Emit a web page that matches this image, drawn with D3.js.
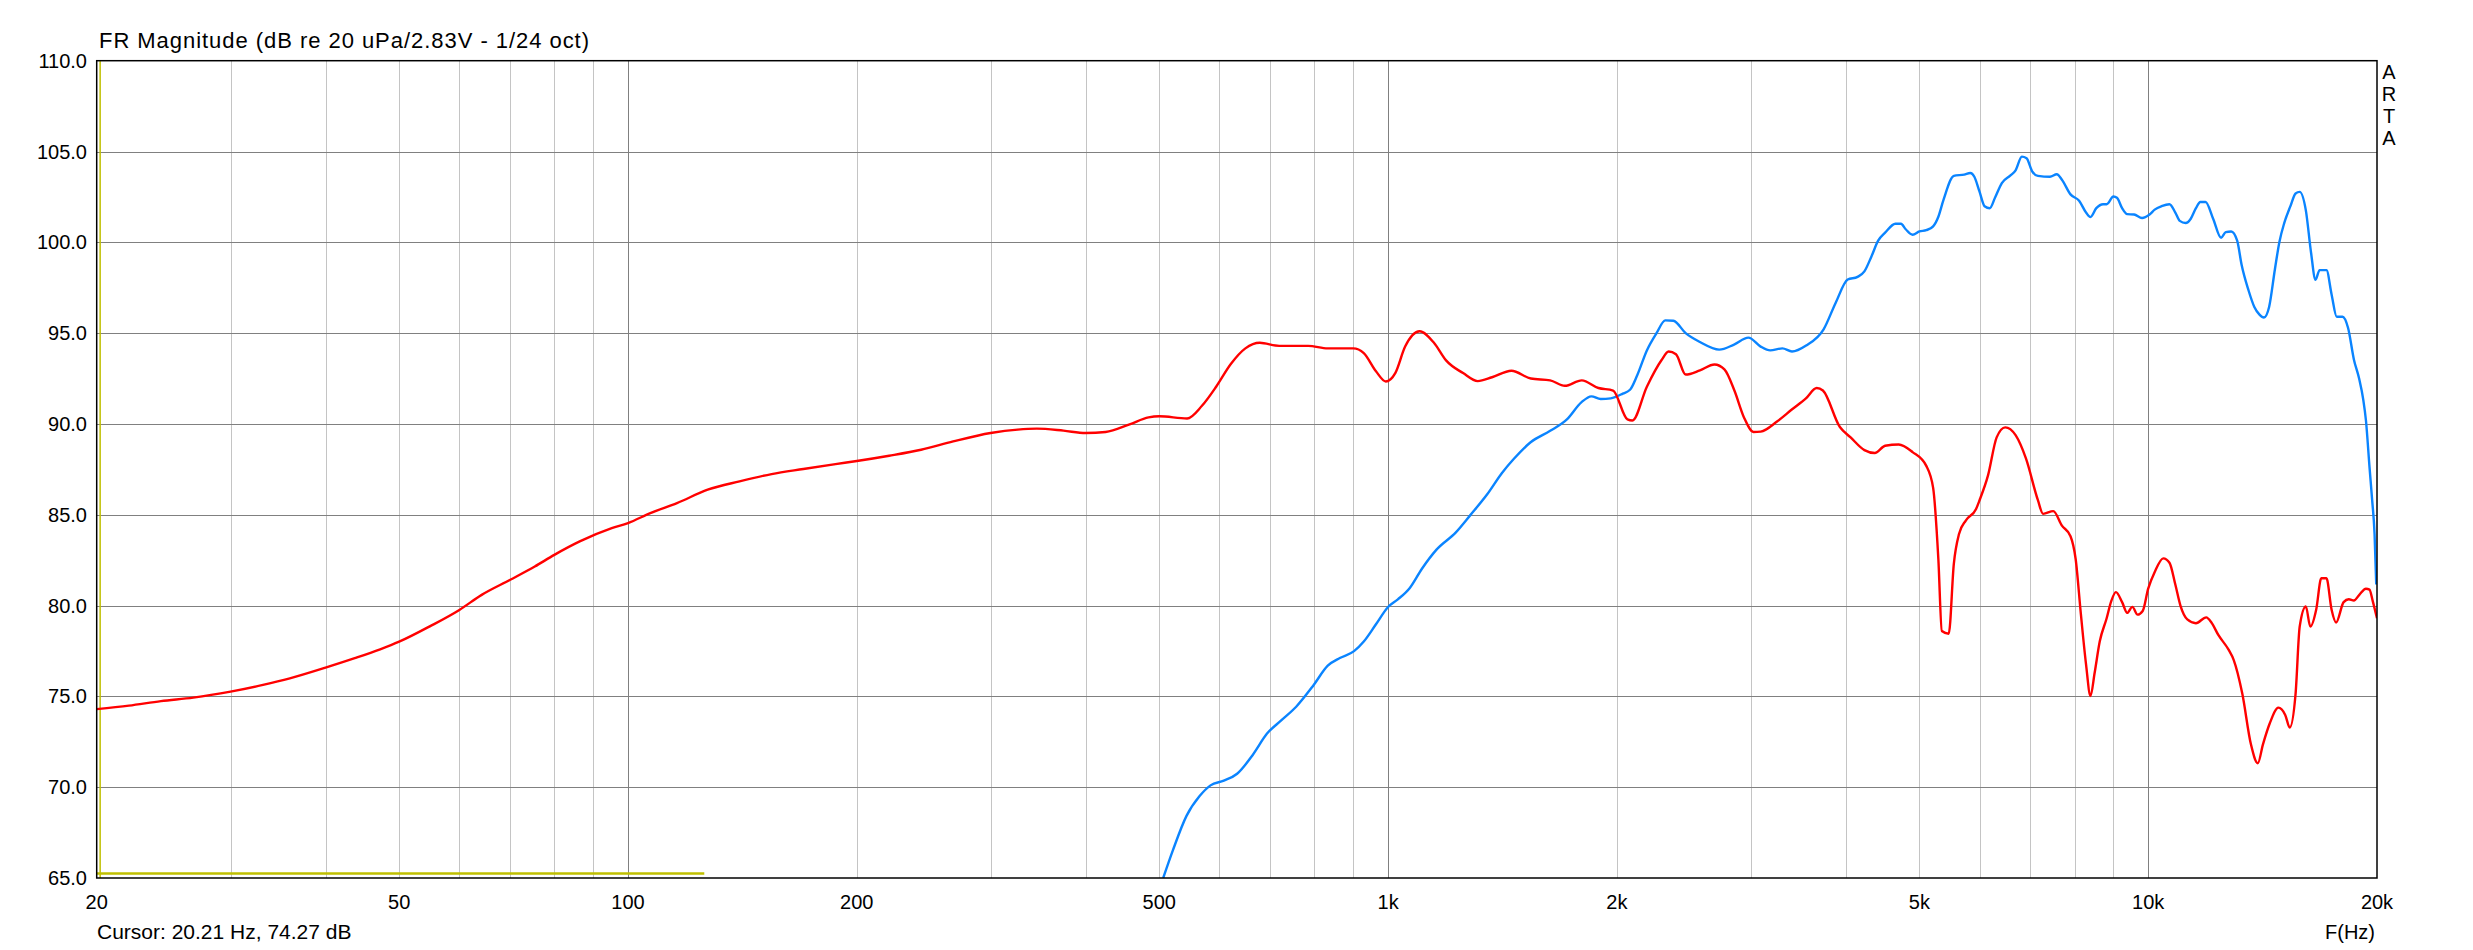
<!DOCTYPE html>
<html>
<head>
<meta charset="utf-8">
<script src="https://cdn.jsdelivr.net/npm/d3@7"></script>
<style>
  html, body { margin: 0; padding: 0; background: #fff; }
  svg { display: block; font-family: "Liberation Sans", Arial, sans-serif; }
</style>
</head>
<body>
<div id="chart"></div>
<script>
// woofer (red) and tweeter (blue) response
const redFreq = [20, 22.05, 24.3, 26.8, 30, 33.1, 35.9, 40, 43.7, 47.2, 50, 55, 60, 64.2, 70, 75.4, 80, 86.4, 95.2, 100,
  107, 116, 127.3, 140.2, 154.5, 170.1, 187.5, 200, 220.6, 243, 267.8, 300, 325.6, 345, 374, 400, 425, 457, 484, 500,
  544, 569, 594, 621, 649, 678, 719, 785, 833, 900, 929, 964, 993, 1022, 1053, 1100, 1149, 1192, 1255, 1312,
  1370, 1453, 1541, 1634, 1708, 1798, 1891, 1977, 2065, 2096, 2190, 2290, 2339, 2392, 2463, 2572, 2688, 2770, 2855, 2939,
  3025, 3092, 3252, 3394, 3546, 3664, 3733, 3930, 4060, 4233, 4368, 4507, 4697, 4898, 5106, 5213, 5296, 5352, 5465, 5550,
  5638, 5755, 5937, 6000, 6157, 6319, 6486, 6692, 6905, 7160, 7273, 7502, 7700, 7903, 8028, 8155, 8284, 8396, 8503, 8636,
  8818, 8939, 9068, 9240, 9384, 9532, 9683, 9835, 10000, 10200, 10469, 10666, 10857, 11026, 11258, 11556, 11923, 12111, 12367, 12757,
  12959, 13300, 13651, 13938, 14158, 14454, 14835, 15146, 15354, 15628, 15824, 16122, 16343, 16634, 16895, 17160, 17430, 17669, 18076, 18361,
  18650, 18945, 19342, 19550, 19748, 20000];
const redDb = [74.3, 74.49, 74.74, 74.93, 75.26, 75.63, 75.99, 76.58, 77.1, 77.59, 78.01, 78.88, 79.76, 80.59, 81.42, 82.15, 82.79, 83.53, 84.26, 84.54,
  85.09, 85.64, 86.38, 86.84, 87.24, 87.52, 87.79, 87.96, 88.25, 88.58, 89.04, 89.5, 89.69, 89.74, 89.63, 89.5, 89.56, 89.98, 90.36, 90.42,
  90.3, 91.0, 92.05, 93.3, 94.16, 94.47, 94.3, 94.3, 94.16, 94.16, 93.9, 92.9, 92.34, 92.8, 94.26, 95.1, 94.47, 93.5, 92.8, 92.36,
  92.57, 92.93, 92.5, 92.4, 92.1, 92.4, 91.98, 91.84, 90.25, 90.19, 92.05, 93.52, 93.99, 93.84, 92.72, 92.95, 93.27, 93.0, 91.84, 90.36,
  89.56, 89.58, 90.15, 90.78, 91.41, 91.98, 91.84, 89.83, 89.26, 88.56, 88.4, 88.8, 88.87, 88.45, 87.69, 86.48, 82.55, 78.6, 78.45, 82.3,
  83.94, 84.68, 85.32, 85.8, 87.18, 89.26, 89.81, 89.38, 88.1, 85.8, 85.05, 85.2, 84.4, 83.82, 82.55, 79.54, 76.76, 75.02, 76.3, 78.03,
  79.3, 80.23, 80.74, 80.19, 79.6, 79.93, 79.5, 79.7, 80.93, 81.85, 82.6, 82.36, 81.16, 80.0, 79.24, 79.03, 79.35, 79.07, 78.38, 77.57,
  77.0, 75.14, 72.36, 71.32, 72.36, 73.52, 74.38, 73.98, 73.29, 75.14, 78.84, 79.95, 78.84, 79.77, 81.5, 81.5, 79.77, 79.07, 80.19, 80.35,
  80.28, 80.58, 80.93, 80.88, 80.23, 79.3];

const blueFreq = [506, 521, 543, 565, 584, 608, 633, 664, 693, 724, 757, 797, 833, 864, 902, 929, 964, 1000, 1030, 1068,
  1108, 1158, 1228, 1283, 1351, 1412, 1464, 1540, 1634, 1719, 1797, 1851, 1904, 1963, 2036, 2081, 2127, 2190, 2255, 2316,
  2373, 2463, 2572, 2727, 2852, 2979, 3091, 3182, 3302, 3399, 3548, 3741, 3882, 4024, 4146, 4233, 4323, 4413, 4507, 4650,
  4729, 4797, 4898, 5001, 5106, 5213, 5296, 5379, 5550, 5727, 5834, 5906, 5998, 6092, 6190, 6287, 6419, 6589, 6692, 6820,
  6918, 7036, 7160, 7427, 7582, 7700, 7903, 8112, 8284, 8396, 8546, 8724, 8818, 9002, 9097, 9240, 9384, 9582, 9815, 10041,
  10200, 10414, 10666, 10857, 11004, 11201, 11377, 11556, 11712, 11898, 12174, 12470, 12649, 12860, 13094, 13273, 13551, 13793, 14010, 14201,
  14424, 14680, 14881, 15100, 15386, 15628, 15824, 16122, 16377, 16600, 16808, 17160, 17430, 17703, 18018, 18323, 18650, 18945, 19184, 19342,
  19550, 19710, 19853, 19954];
const blueDb = [65.0, 66.52, 68.42, 69.51, 70.1, 70.36, 70.74, 71.79, 72.95, 73.69, 74.43, 75.59, 76.69, 77.11, 77.49, 78.02, 78.97, 79.92, 80.34, 80.97,
  82.03, 83.08, 84.03, 84.98, 86.14, 87.3, 88.08, 88.99, 89.62, 90.25, 91.2, 91.52, 91.37, 91.41, 91.67, 91.88, 92.68, 94.05, 95.0, 95.7,
  95.68, 95.0, 94.51, 94.09, 94.37, 94.75, 94.26, 94.05, 94.16, 93.99, 94.32, 95.21, 96.69, 97.95, 98.1, 98.4, 99.21, 100.09, 100.53, 101.02,
  101.02, 100.72, 100.42, 100.6, 100.67, 100.88, 101.41, 102.34, 103.66, 103.73, 103.82, 103.61, 102.8, 101.99, 101.88, 102.45, 103.26, 103.68, 103.96, 104.72,
  104.63, 103.91, 103.66, 103.61, 103.75, 103.45, 102.64, 102.29, 101.64, 101.39, 101.88, 102.1, 102.1, 102.52, 102.45, 101.88, 101.55, 101.53, 101.34, 101.53,
  101.8, 101.99, 102.1, 101.64, 101.18, 101.06, 101.3, 101.88, 102.22, 102.22, 101.3, 100.25, 100.56, 100.6, 100.09, 98.75, 97.36, 96.44, 96.02, 95.86,
  96.44, 98.52, 100.02, 101.06, 101.99, 102.69, 102.78, 101.76, 99.44, 97.94, 98.47, 98.47, 97.13, 95.9, 95.9, 95.28, 93.54, 92.5, 91.34, 90.19,
  87.64, 85.79, 83.94, 81.16];

const xTicks = [20, 50, 100, 200, 500, 1000, 2000, 5000, 10000, 20000];
const xTickLabels = ["20", "50", "100", "200", "500", "1k", "2k", "5k", "10k", "20k"];
const yTicks = [65, 70, 75, 80, 85, 90, 95, 100, 105, 110];

const title = "FR Magnitude (dB re 20 uPa/2.83V - 1/24 oct)";
const cursorFreq = 20.21;
const cursorDb = 74.27;
const markerFreq = [20, 126]; // yellow marker along the floor
const markerDb = 65.25;

const width = 2473;
const height = 950;
const plot = { left: 96.7, right: 2377, top: 60.7, bottom: 878 };

const x = d3.scaleLog().domain([20, 20000]).range([plot.left, plot.right]);
const y = d3.scaleLinear().domain([65, 110]).range([plot.bottom, plot.top]);

const svg = d3
  .select("#chart")
  .append("svg")
  .attr("width", width)
  .attr("height", height)
  .attr("viewBox", [0, 0, width, height]);

svg
  .append("defs")
  .append("clipPath")
  .attr("id", "plotClip")
  .append("rect")
  .attr("x", plot.left)
  .attr("y", plot.top)
  .attr("width", plot.right - plot.left)
  .attr("height", plot.bottom - plot.top);

// grid: light minor lines, darker decade lines and dB lines
const isDecade = (f) => Math.abs(Math.log10(f) - Math.round(Math.log10(f))) < 1e-6;
const gridG = svg.append("g").attr("shape-rendering", "crispEdges");
gridG
  .selectAll("line.vgrid")
  .data(x.ticks().filter((f) => f > 20 && f < 20000))
  .join("line")
  .attr("class", "vgrid")
  .attr("x1", (d) => Math.round(x(d)) + 0.5)
  .attr("x2", (d) => Math.round(x(d)) + 0.5)
  .attr("y1", plot.top)
  .attr("y2", plot.bottom)
  .attr("stroke", (d) => (isDecade(d) ? "#808080" : "#c4c4c4"))
  .attr("stroke-width", 1);
gridG
  .selectAll("line.hgrid")
  .data(yTicks.filter((d) => d > 65 && d < 110))
  .join("line")
  .attr("class", "hgrid")
  .attr("x1", plot.left)
  .attr("x2", plot.right)
  .attr("y1", (d) => Math.round(y(d)) + 0.5)
  .attr("y2", (d) => Math.round(y(d)) + 0.5)
  .attr("stroke", "#808080")
  .attr("stroke-width", 1);

// cursor and marker (yellow)
const markG = svg.append("g").attr("clip-path", "url(#plotClip)");
markG
  .append("line")
  .attr("x1", x(cursorFreq))
  .attr("x2", x(cursorFreq))
  .attr("y1", plot.top)
  .attr("y2", plot.bottom)
  .attr("stroke", "#c0c000")
  .attr("stroke-width", 1.5);
markG
  .append("line")
  .attr("x1", x(markerFreq[0]))
  .attr("x2", x(markerFreq[1]))
  .attr("y1", y(markerDb))
  .attr("y2", y(markerDb))
  .attr("stroke", "#c0c000")
  .attr("stroke-width", 2.5);

// curves
const line = d3
  .line()
  .x((d) => x(d[0]))
  .y((d) => y(d[1]))
  .curve(d3.curveMonotoneX);

const curvesG = svg.append("g").attr("clip-path", "url(#plotClip)");
curvesG
  .append("path")
  .attr("d", line(d3.zip(blueFreq, blueDb)))
  .attr("fill", "none")
  .attr("stroke", "#0a84ff")
  .attr("stroke-width", 2.4)
  .attr("stroke-linejoin", "round");
curvesG
  .append("path")
  .attr("d", line(d3.zip(redFreq, redDb)))
  .attr("fill", "none")
  .attr("stroke", "#ff0000")
  .attr("stroke-width", 2.4)
  .attr("stroke-linejoin", "round");

// frame
svg
  .append("rect")
  .attr("x", plot.left)
  .attr("y", plot.top)
  .attr("width", plot.right - plot.left)
  .attr("height", plot.bottom - plot.top)
  .attr("fill", "none")
  .attr("stroke", "#000")
  .attr("stroke-width", 1.5);

// axis labels
svg
  .append("g")
  .selectAll("text")
  .data(xTicks)
  .join("text")
  .attr("x", (d) => x(d))
  .attr("y", 909)
  .attr("text-anchor", "middle")
  .attr("font-size", 20)
  .text((d, i) => xTickLabels[i]);

svg
  .append("g")
  .selectAll("text")
  .data(yTicks)
  .join("text")
  .attr("x", 87)
  .attr("y", (d) => y(d) + 7)
  .attr("text-anchor", "end")
  .attr("font-size", 20)
  .text((d) => d.toFixed(1));

// title is set a little wider than Liberation Sans gives at this size
svg
  .append("text")
  .attr("x", 99)
  .attr("y", 48)
  .attr("font-size", 22)
  .attr("textLength", 490)
  .attr("lengthAdjust", "spacing")
  .text(title);

svg
  .append("text")
  .attr("x", 97)
  .attr("y", 939)
  .attr("font-size", 21)
  .text(`Cursor: ${cursorFreq.toFixed(2)} Hz, ${cursorDb.toFixed(2)} dB`);

svg
  .append("text")
  .attr("x", 2375)
  .attr("y", 939)
  .attr("text-anchor", "end")
  .attr("font-size", 20)
  .text("F(Hz)");

svg
  .append("g")
  .selectAll("text")
  .data(["A", "R", "T", "A"])
  .join("text")
  .attr("x", 2389)
  .attr("y", (d, i) => 79 + i * 22)
  .attr("text-anchor", "middle")
  .attr("font-size", 20)
  .text((d) => d);
</script>
</body>
</html>
